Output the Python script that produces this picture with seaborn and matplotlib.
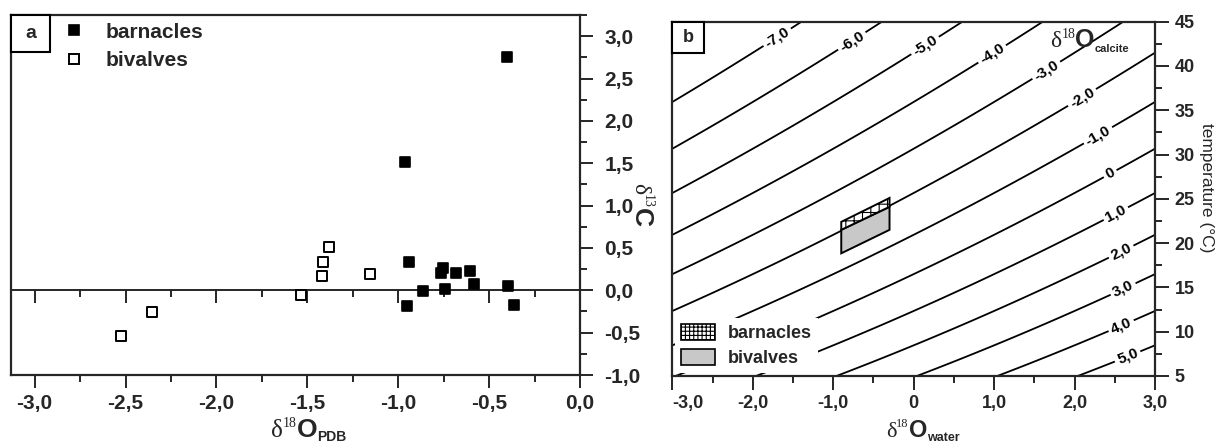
import numpy as np
import pandas as pd
import matplotlib
matplotlib.use('Agg')
import matplotlib.pyplot as plt
import seaborn as sns
from matplotlib.patches import Rectangle, Polygon, Patch
from matplotlib.lines import Line2D
from matplotlib.ticker import MultipleLocator, FuncFormatter
from matplotlib.transforms import offset_copy

# ---------------- data: panel a (d18O vs d13C) ----------------
barnacles_d18O = [-0.40, -0.962, -0.94, -0.755, -0.765, -0.684, -0.604, -0.586, -0.394, -0.866, -0.742, -0.952, -0.366]
barnacles_d13C = [2.75, 1.52, 0.335, 0.26, 0.20, 0.20, 0.23, 0.07, 0.05, -0.01, 0.01, -0.185, -0.175]
bivalves_d18O = [-1.379, -1.414, -1.42, -1.154, -1.533, -2.353, -2.524]
bivalves_d13C = [0.515, 0.33, 0.17, 0.19, -0.05, -0.26, -0.54]

# ---------------- data: panel b (palaeotemperature grid) ----------------
calcite_levels = [-7, -6, -5, -4, -3, -2, -1, 0, 1, 2, 3, 4, 5]
temp_eq_coef = [16.5, -4.3, 0.14]          # T = a + b*(dc-dw) + c*(dc-dw)^2
label_water = [-1.70, -0.76, 0.15, 0.98, 1.65, 2.09, 2.29, 2.44, 2.51, 2.56, 2.59, 2.56, 2.66]
label_temp = [43.3, 42.7, 42.2, 41.3, 39.5, 36.5, 32.2, 27.9, 23.4, 19.4, 15.1, 11.1, 7.2]
barn_water = [-0.9, -0.3]
barn_T_top = [22.4, 25.1]
barn_T_bot = [21.5, 24.1]
biv_water = [-0.9, -0.3]
biv_T_top = [21.5, 24.1]
biv_T_bot = [18.85, 21.5]

# ---------------- style ----------------
sns.set_style('ticks')
plt.rcParams['font.family'] = ['Liberation Sans', 'DejaVu Sans']
plt.rcParams['font.weight'] = 'bold'
plt.rcParams['hatch.linewidth'] = 0.8
plt.rcParams['axes.linewidth'] = 1.6
plt.rcParams['contour.negative_linestyle'] = 'solid'

fig = plt.figure(figsize=(12.24, 4.45), dpi=100)
axa = fig.add_axes([0.0090, 0.1573, 0.4649, 0.8090])
axb = fig.add_axes([0.5493, 0.1551, 0.3943, 0.7961])

def comma(v, pos=None):
    s = f'{v:.1f}'.replace('.', ',')
    return '0,0' if s == '-0,0' else s

def comma_b(v, pos=None):
    if abs(v) < 1e-9:
        return '0'
    return f'{v:.1f}'.replace('.', ',')

# ---------------- panel a ----------------
dfa = pd.DataFrame({
    'd18O': barnacles_d18O + bivalves_d18O,
    'd13C': barnacles_d13C + bivalves_d13C,
    'group': ['barnacles'] * len(barnacles_d18O) + ['bivalves'] * len(bivalves_d18O),
})
sns.scatterplot(data=dfa[dfa.group == 'bivalves'], x='d18O', y='d13C', marker='s', s=44,
                color='white', edgecolor='black', linewidth=1.4, ax=axa, legend=False, zorder=3)
sns.scatterplot(data=dfa[dfa.group == 'barnacles'], x='d18O', y='d13C', marker='s', s=44,
                color='black', edgecolor='black', linewidth=1.2, ax=axa, legend=False, zorder=4)
axa.set_xlim(-3.13, 0.0)
axa.set_ylim(-1.0, 3.25)
axa.set_xlabel('')
axa.set_ylabel('')
axa.xaxis.set_major_locator(MultipleLocator(0.5))
axa.xaxis.set_minor_locator(MultipleLocator(0.25))
axa.yaxis.set_major_locator(MultipleLocator(0.5))
axa.yaxis.set_minor_locator(MultipleLocator(0.25))
axa.xaxis.set_major_formatter(FuncFormatter(comma))
axa.yaxis.set_major_formatter(FuncFormatter(comma))
axa.yaxis.tick_right()
axa.tick_params(axis='x', which='both', bottom=True, top=False, direction='out', labelsize=15, pad=4)
axa.tick_params(axis='y', which='both', left=False, right=True, labelleft=False, labelright=True,
                direction='out', labelsize=15, pad=8)
axa.tick_params(which='major', length=9.5, width=1.4)
axa.tick_params(which='minor', length=5, width=1.4)
for sp in axa.spines.values():
    sp.set_visible(True)
    sp.set_linewidth(1.6)

# zero line with its own ticks
zero_frac = (0 - axa.get_ylim()[0]) / (axa.get_ylim()[1] - axa.get_ylim()[0])
sec = axa.secondary_xaxis(zero_frac)
sec.set_alignment('bottom')
sec.xaxis.set_major_locator(MultipleLocator(0.5))
sec.xaxis.set_minor_locator(MultipleLocator(0.25))
sec.tick_params(axis='x', which='both', direction='out', labelbottom=False, labeltop=False)
sec.tick_params(which='major', length=9.5, width=1.4)
sec.tick_params(which='minor', length=5, width=1.4)
sec.spines['bottom'].set_linewidth(1.4)

# legend a
h1 = Line2D([], [], marker='s', ls='none', mfc='black', mec='black', ms=7.5, mew=1.2)
h2 = Line2D([], [], marker='s', ls='none', mfc='white', mec='black', ms=7.5, mew=1.4)
axa.legend([h1, h2], ['barnacles', 'bivalves'], loc='upper left', bbox_to_anchor=(0.085, 0.99),
           frameon=False, fontsize=15, handletextpad=1.0, labelspacing=0.45, borderaxespad=0,
           handlelength=1.0, borderpad=0.2)

# "a" box
axa.add_patch(Rectangle((0, 1 - 0.103), 0.0685, 0.103, transform=axa.transAxes, facecolor='white',
                        edgecolor='black', lw=1.5, zorder=6, clip_on=False))
axa.text(0.0685 / 2, 1 - 0.103 / 2, 'a', transform=axa.transAxes, ha='center', va='center',
         fontsize=14, zorder=7)

# ---------------- panel b ----------------
a0, a1, a2 = temp_eq_coef
wgrid = np.linspace(-3, 3, 301)
tgrid = np.linspace(5, 45, 401)
W, TT = np.meshgrid(wgrid, tgrid)
D = (-a1 - np.sqrt(a1 ** 2 - 4 * a2 * (a0 - TT))) / (2 * a2)
DC = W + D
cs = axb.contour(W, TT, DC, levels=calcite_levels, colors='black', linewidths=1.3,
                 linestyles='solid', zorder=2)
axb.clabel(cs, cs.levels, manual=list(zip(label_water, label_temp)), fmt=comma_b,
           inline=True, inline_spacing=3, fontsize=11)

biv_poly = Polygon([(biv_water[0], biv_T_bot[0]), (biv_water[1], biv_T_bot[1]),
                    (biv_water[1], biv_T_top[1]), (biv_water[0], biv_T_top[0])],
                   closed=True, facecolor='#c8c8c8', edgecolor='black', lw=1.4, zorder=3)
barn_poly = Polygon([(barn_water[0], barn_T_bot[0]), (barn_water[1], barn_T_bot[1]),
                     (barn_water[1], barn_T_top[1]), (barn_water[0], barn_T_top[0])],
                    closed=True, facecolor='white', edgecolor='black', hatch='++', lw=1.4, zorder=3)
axb.add_patch(biv_poly)
axb.add_patch(barn_poly)

axb.set_xlim(-3, 3)
axb.set_ylim(5, 45)
axb.xaxis.set_major_locator(MultipleLocator(1.0))
axb.xaxis.set_minor_locator(MultipleLocator(0.5))
axb.yaxis.set_major_locator(MultipleLocator(5))
axb.yaxis.set_minor_locator(MultipleLocator(2.5))
axb.xaxis.set_major_formatter(FuncFormatter(comma_b))
axb.yaxis.set_major_formatter(FuncFormatter(lambda v, p: f'{v:.0f}'))
axb.yaxis.tick_right()
axb.tick_params(axis='x', which='both', bottom=True, top=False, direction='out', labelsize=13, pad=4)
axb.tick_params(axis='y', which='both', left=False, right=True, labelleft=False, labelright=True,
                direction='out', labelsize=13, pad=4)
axb.tick_params(which='major', length=10, width=1.4)
axb.tick_params(which='minor', length=5.2, width=1.4)
for sp in axb.spines.values():
    sp.set_visible(True)
    sp.set_linewidth(1.6)

axb.set_ylabel('temperature (°C)', rotation=270, fontsize=12.5, fontweight='normal', va='center', ha='center')
axb.yaxis.set_label_position('right')
axb.yaxis.set_label_coords(1.122, 0.531)

leg_b = axb.legend([Patch(facecolor='white', edgecolor='black', hatch='++++', lw=1.2),
                    Patch(facecolor='#c8c8c8', edgecolor='black', lw=1.2)],
                   ['barnacles', 'bivalves'], loc='lower left', frameon=True, facecolor='white',
                   edgecolor='none', framealpha=1, fancybox=False, fontsize=13, handlelength=1.85,
                   handleheight=1.0, borderaxespad=0.15, borderpad=0.35, labelspacing=0.35,
                   handletextpad=0.7)

axb.add_patch(Rectangle((0, 1 - 0.089), 0.066, 0.089, transform=axb.transAxes, facecolor='white',
                        edgecolor='black', lw=1.5, zorder=6, clip_on=False))
axb.text(0.033, 1 - 0.089 / 2, 'b', transform=axb.transAxes, ha='center', va='center',
         fontsize=13, zorder=7)

# shift the first x tick label of panel b to the right, as in the original
fig.canvas.draw()
for lab in axb.get_xticklabels():
    if lab.get_text().startswith('-3'):
        lab.set_ha('left')
renderer = fig.canvas.get_renderer()

SERIF = ['Liberation Serif', 'DejaVu Serif']
SANS = ['Liberation Sans', 'DejaVu Sans']

def rich(ax, x, y, parts, transform, rotation=0, align='center'):
    widths = []
    for s, kw, dy in parts:
        t = fig.text(0, 0, s, **kw)
        widths.append(t.get_window_extent(renderer).width)
        t.remove()
    total = sum(widths)
    pos = -total / 2 if align == 'center' else 0
    for (s, kw, dy), w in zip(parts, widths):
        d = dy * fig.dpi / 72
        if rotation == 0:
            ox, oy = pos, d
        else:
            ox, oy = d, -pos
        tr = offset_copy(transform, fig=fig, x=ox, y=oy, units='dots')
        ax.text(x, y, s, transform=tr, ha='left', va='baseline', rotation=rotation,
                rotation_mode='anchor', clip_on=False, zorder=8, **kw)
        pos += w

def delta_parts(iso, elem, sub, big=18, small=10, elem_size=19, sub_size=10):
    parts = [('δ', dict(fontsize=big, family=SERIF, fontweight='normal'), 0),
             (iso, dict(fontsize=small, family=SERIF, fontweight='normal'), 7)]
    parts.append((elem, dict(fontsize=elem_size, family=SANS, fontweight='bold'), 0))
    if sub:
        parts.append((sub, dict(fontsize=sub_size, family=SANS, fontweight='bold'), -3))
    return parts

rich(axa, 0.523, -0.172, delta_parts('18', 'O', 'PDB'), axa.transAxes)
rich(axb, 0.519, -0.172, delta_parts('18', 'O', 'water', big=16, small=9, elem_size=17, sub_size=9), axb.transAxes)
rich(axa, 1.095, 0.472, delta_parts('13', 'C', None, big=17, small=10, elem_size=19), axa.transAxes,
     rotation=270)
rich(axb, 1.70, 42.1, delta_parts('18', 'O', 'calcite', big=17, small=10, elem_size=18, sub_size=8),
     axb.transData, align='left')

fig.savefig('out.png', dpi=100)
